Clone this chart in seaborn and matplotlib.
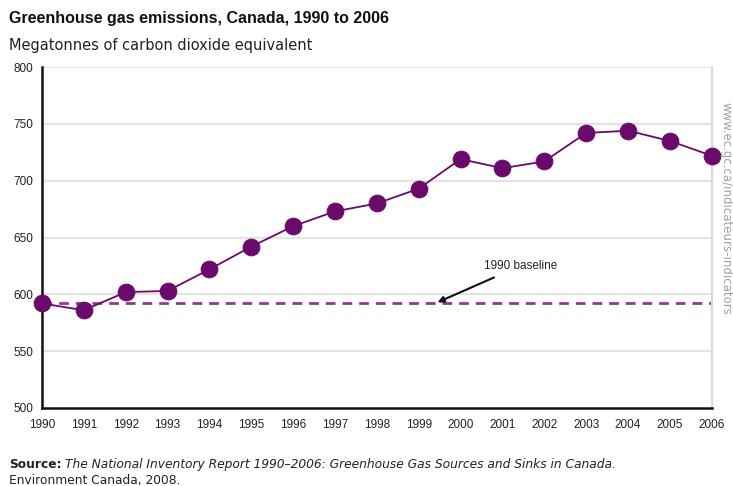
import numpy as np
import pandas as pd
import matplotlib
matplotlib.use("Agg")
import matplotlib.pyplot as plt
import seaborn as sns

# data
years = list(range(1990, 2007))
emissions = [592, 586, 602, 603, 622, 642, 660, 673, 680, 693,
             719, 711, 717, 742, 744, 735, 722]
baseline = 592
y_ticks = [500, 550, 600, 650, 700, 750, 800]

df = pd.DataFrame({"year": years, "mt": emissions})

sns.set_style("white")
plt.rcParams["font.family"] = ["Liberation Sans", "DejaVu Sans"]

fig = plt.figure(figsize=(7.33, 4.86), dpi=100)
ax = fig.add_axes([0.0573, 0.1605, 0.9137, 0.7015])

for t in y_ticks[1:]:
    ax.axhline(t, color="#e3e3e3", lw=1.6, zorder=0)

ax.axhline(baseline, color="#8e3a8e", lw=2, ls=(0, (3.5, 2.5)), zorder=1)

sns.lineplot(data=df, x="year", y="mt", ax=ax, color="#6a0a6a", lw=1.3,
             marker="o", markersize=12, markeredgecolor="#6a0a6a",
             clip_on=False, zorder=3)

ax.annotate("1990 baseline", xy=(1999.45, baseline + 1), xytext=(2000.55, 625),
            fontsize=8.5, color="#222222", va="center", ha="left",
            arrowprops=dict(arrowstyle="-|>", color="#111111", lw=1.5,
                            shrinkA=4, shrinkB=0, mutation_scale=9))

ax.set_xlim(1990, 2006)
ax.set_ylim(500, 800)
ax.set_xticks(years)
ax.set_yticks(y_ticks)
ax.tick_params(axis="both", labelsize=8.5, labelcolor="#222222")
ax.tick_params(axis="x", direction="in", length=5, width=1.5, color="#333333", pad=8)
ax.tick_params(axis="y", length=0, pad=6)
ax.set_xlabel("")
ax.set_ylabel("")

for side in ["left", "bottom"]:
    ax.spines[side].set_color("#111111")
    ax.spines[side].set_linewidth(1.8)
ax.spines["top"].set_visible(False)
ax.spines["right"].set_color("#d8d8d8")
ax.spines["right"].set_linewidth(1.5)

fig.text(0.012, 0.952, "Greenhouse gas emissions, Canada, 1990 to 2006",
         fontsize=11.5, fontweight="bold", color="#111111")
fig.text(0.012, 0.898, "Megatonnes of carbon dioxide equivalent",
         fontsize=10.5, color="#222222", family="DejaVu Sans")
fig.text(0.99, 0.79, "www.ec.gc.ca/indicateurs-indicators", rotation=-90,
         fontsize=8.5, color="#a0a0a0", ha="center", va="top", family="DejaVu Sans")

# source note: bold label followed by italic title
src = fig.text(0.012, 0.038, "Source:", fontsize=8.8, fontweight="bold",
               color="#222222", family="DejaVu Sans")
fig.canvas.draw()
bb = src.get_window_extent(renderer=fig.canvas.get_renderer())
x_after = (bb.x1 + 4) / fig.bbox.width
fig.text(x_after, 0.038,
         "The National Inventory Report 1990\u20132006: Greenhouse Gas Sources and Sinks in Canada.",
         fontsize=8.8, style="italic", color="#222222", family="DejaVu Sans")
fig.text(0.012, 0.005, "Environment Canada, 2008.", fontsize=8.8, color="#222222",
         family="DejaVu Sans")

fig.savefig("out.png", dpi=100)
